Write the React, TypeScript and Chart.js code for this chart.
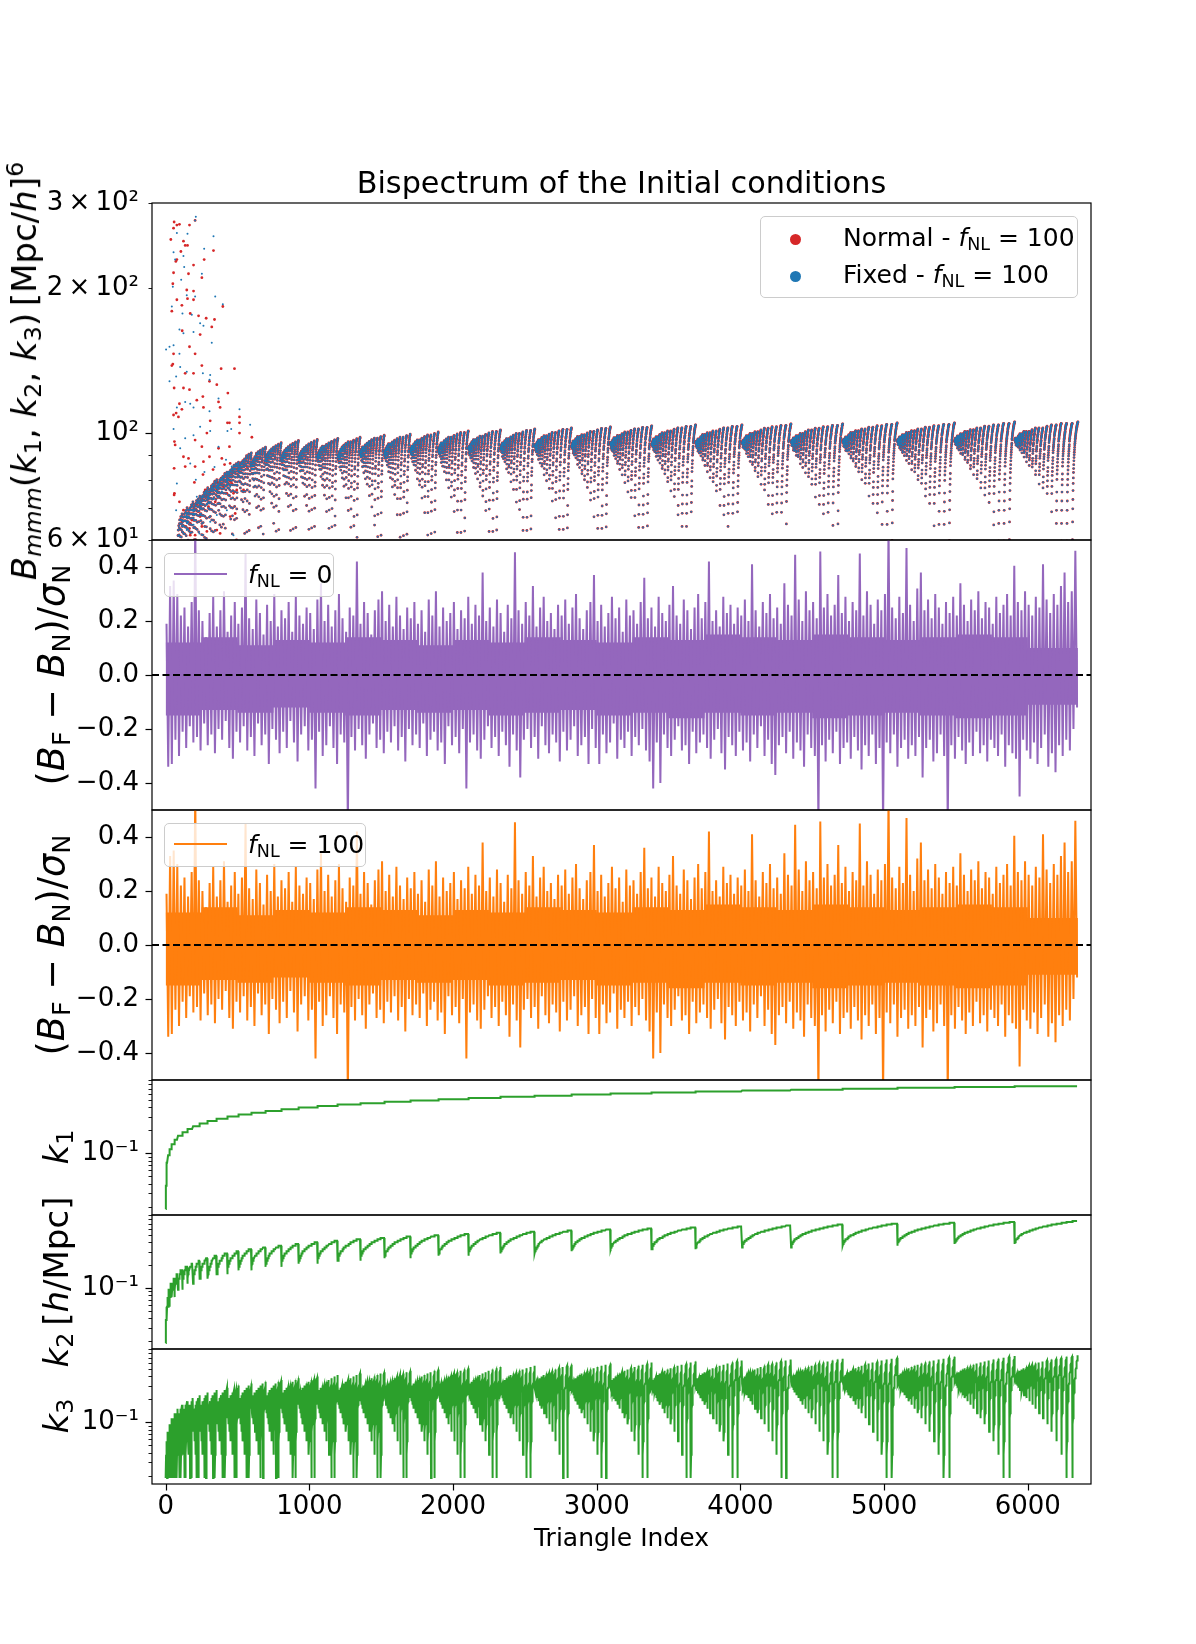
import { useEffect, useRef } from "react";
import { Chart, registerables } from "chart.js";

Chart.register(...registerables);

const FONT = "'DejaVu Sans', sans-serif";

// k bins in h/Mpc (k1 >= k2 >= k3 are all taken from this list)
const kBins = [
  0.0188, 0.0377, 0.0565, 0.0754, 0.0942, 0.1131, 0.1319, 0.1508, 0.1696, 0.1885,
  0.2073, 0.2262, 0.245, 0.2639, 0.2827, 0.3016, 0.3204, 0.3393, 0.3581, 0.377,
  0.3958, 0.4147, 0.4335, 0.4524, 0.4712, 0.4901, 0.5089, 0.5278, 0.5466, 0.5655,
  0.5843, 0.6032, 0.622, 0.6409, 0.6597, 0.6786, 0.6974, 0.7163, 0.7351, 0.754,
];

const xTicks = [0, 1000, 2000, 3000, 4000, 5000, 6000];

// top of the "fan" of every k1 block from block 9 on
const FIRST_FAN_BLOCK = 9;
const fanTopByBlock = [
  68, 70, 72, 74, 77, 80, 83, 87,
  91, 93.5, 95.5, 96.5, 97, 97.5, 98, 99, 99.5, 100.5, 101, 101.5,
  102, 102.5, 103, 103.5, 104, 104, 104.5, 104.5, 105, 105, 105.5, 105.5,
];

// column tops inside a block, for k2/k1 = 0.50, 0.55, ... 1.00
const columnRise = [0.915, 0.925, 0.935, 0.945, 0.955, 0.963, 0.971, 0.979, 0.986, 0.993, 1.0];

// level of the rows below the top, for k3/k2 = 0, 0.025, ... 1.00
const squeezeShape = [
  0.4, 0.5, 0.57, 0.62, 0.66, 0.69, 0.72, 0.745, 0.765, 0.785, 0.8,
  0.815, 0.83, 0.843, 0.855, 0.865, 0.875, 0.885, 0.895, 0.903, 0.91,
  0.918, 0.925, 0.931, 0.937, 0.943, 0.948, 0.953, 0.958, 0.963, 0.967,
  0.971, 0.975, 0.979, 0.983, 0.987, 0.99, 0.993, 0.995, 0.998, 1.0,
];

// scattered large-scale triangles, [triangle index, B]
const normalLowK: [number, number][] = [
  [59, 274], [55, 266], [36, 252], [78, 270], [96, 271], [166, 270], [205, 276], [124, 250], [136, 245], [152, 245],
  [106, 238], [71, 227], [78, 229], [268, 229], [333, 239], [194, 223], [159, 214], [252, 210], [55, 215], [50, 204],
  [147, 198], [194, 197], [152, 190], [194, 189], [398, 183], [78, 189], [113, 184], [43, 179], [171, 177], [229, 175],
  [282, 173], [340, 172], [321, 166], [115, 163], [166, 151], [240, 160], [205, 146], [55, 146], [43, 138], [50, 139],
  [136, 133], [194, 133], [252, 138], [386, 136], [479, 136], [59, 124], [124, 124], [166, 123], [217, 117], [259, 119],
  [305, 128], [356, 126], [433, 121], [368, 116], [379, 113], [96, 115], [113, 112], [73, 110], [55, 109], [89, 108],
  [263, 113], [310, 106], [430, 105], [444, 105], [61, 96], [66, 94.5], [205, 96.7], [252, 93.7], [287, 100], [368, 93],
  [444, 93.7], [124, 89.3], [159, 88.6], [59, 84.5], [59, 74.4], [136, 85.2], [205, 85.2], [263, 87.2], [305, 89.3], [391, 88.6],
  [449, 86.5], [61, 75], [96, 72], [124, 69.2], [113, 65.5], [171, 65], [194, 66], [229, 68.7], [240, 72], [275, 76.2],
  [333, 77.4], [379, 78.6], [449, 79.3], [472, 75], [171, 61.4], [205, 61.4], [252, 64], [287, 62.5], [356, 62.9], [379, 61.9],
  [449, 67.1], [484, 68.1], [182, 66], [217, 69], [263, 72.6], [310, 75], [356, 76.2], [402, 77.4], [460, 78.6], [166, 63.4],
  [240, 67.1], [298, 70.4], [345, 72], [426, 75], [495, 76.2], [140, 64], [185, 68], [215, 71], [250, 73], [280, 74],
  [320, 76], [360, 79], [400, 80], [430, 82], [470, 83], [500, 84], [200, 79], [260, 82], [330, 84], [410, 86],
  [514, 108], [514, 105], [514, 100], [600, 98], [565, 85.2], [542, 76.2],
];

const fixedLowK: [number, number][] = [
  [210, 281], [205, 276], [78, 260], [152, 259], [333, 256], [268, 241], [55, 237], [124, 233], [66, 229], [129, 221],
  [108, 208], [50, 201], [252, 214], [147, 193], [205, 192], [345, 192], [398, 185], [43, 183], [117, 177], [182, 176],
  [240, 169], [263, 167], [96, 164], [124, 161], [194, 162], [321, 154], [3, 149], [27, 151], [55, 152], [96, 146],
  [101, 137], [73, 131], [27, 128], [147, 134], [259, 133], [310, 132], [305, 129], [171, 115], [136, 116], [194, 113],
  [78, 113], [305, 111], [368, 118], [430, 101], [456, 102], [55, 102], [136, 97.5], [194, 99], [240, 103], [310, 101],
  [368, 93.7], [101, 93], [171, 86.5], [78, 78.6], [73, 69.2], [113, 66], [147, 67.6], [182, 70.4], [217, 73.8], [275, 75],
  [333, 76.2], [379, 79.9], [414, 77.4], [460, 85.2], [484, 81.2], [147, 62.9], [235, 61.9], [310, 65.5], [356, 67.6], [426, 69.2],
  [472, 61.4], [194, 64.5], [240, 67.6], [287, 71], [333, 73], [391, 75.6], [449, 77.4], [495, 78], [150, 65], [190, 69],
  [225, 72], [255, 74], [290, 75], [325, 77], [365, 78], [405, 81], [440, 83], [480, 84], [210, 80], [270, 83],
  [340, 85], [420, 88], [500, 86], [514, 112], [588, 104],
];

// (B_F - B_N)/sigma_N : upper and lower peaks per bin of 25 triangles
// (the fNL = 0 and fNL = 100 panels look the same in the figure)
const RESIDUAL_BIN = 25;
const residualUp = [
  0.19, 0.33, 0.35, 0.3, 0.22, 0.25, 0.18, 0.27, 0.56, 0.24,
  0.2, 0.14, 0.23, 0.29, 0.18, 0.24, 0.31, 0.16, 0.22, 0.27,
  0.19, 0.25, 0.45, 0.21, 0.17, 0.28, 0.23, 0.15, 0.26, 0.2,
  0.3, 0.18, 0.24, 0.21, 0.27, 0.16, 0.29, 0.22, 0.19, 0.25,
  0.23, 0.17, 0.28, 0.34, 0.2, 0.26, 0.18, 0.24, 0.3, 0.21,
  0.16, 0.25, 0.22, 0.42, 0.19, 0.27, 0.23, 0.15, 0.24, 0.28,
  0.31, 0.2, 0.26, 0.18, 0.29, 0.22, 0.17, 0.25, 0.21, 0.27,
  0.19, 0.24, 0.16, 0.28, 0.22, 0.31, 0.18, 0.25, 0.2, 0.23,
  0.27, 0.17, 0.24, 0.21, 0.29, 0.19, 0.26, 0.22, 0.38, 0.2,
  0.25, 0.18, 0.28, 0.23, 0.16, 0.26, 0.21, 0.455, 0.24, 0.19,
  0.27, 0.22, 0.33, 0.18, 0.25, 0.29, 0.2, 0.23, 0.17, 0.26,
  0.22, 0.28, 0.19, 0.25, 0.3, 0.21, 0.17, 0.24, 0.27, 0.37,
  0.2, 0.26, 0.18, 0.23, 0.29, 0.21, 0.25, 0.16, 0.28, 0.22,
  0.24, 0.19, 0.27, 0.36, 0.21, 0.25, 0.18, 0.29, 0.23, 0.2,
  0.26, 0.33, 0.22, 0.19, 0.28, 0.24, 0.17, 0.25, 0.3, 0.21,
  0.27, 0.42, 0.2, 0.24, 0.18, 0.29, 0.23, 0.26, 0.19, 0.25,
  0.22, 0.28, 0.2, 0.41, 0.24, 0.18, 0.27, 0.23, 0.3, 0.21,
  0.25, 0.19, 0.34, 0.26, 0.22, 0.445, 0.28, 0.2, 0.31, 0.24,
  0.27, 0.21, 0.457, 0.25, 0.3, 0.22, 0.26, 0.37, 0.23, 0.29,
  0.2, 0.27, 0.24, 0.45, 0.22, 0.31, 0.26, 0.19, 0.28, 0.24,
  0.3, 0.55, 0.25, 0.21, 0.29, 0.23, 0.47, 0.26, 0.2, 0.32,
  0.38, 0.24, 0.28, 0.21, 0.3, 0.25, 0.19, 0.27, 0.23, 0.29,
  0.22, 0.34, 0.26, 0.2, 0.28, 0.24, 0.31, 0.21, 0.27, 0.25,
  0.19, 0.29, 0.23, 0.26, 0.3, 0.22, 0.405, 0.27, 0.24, 0.31,
  0.26, 0.22, 0.29, 0.25, 0.41, 0.28, 0.23, 0.3, 0.26, 0.33,
  0.38, 0.27, 0.31, 0.46,
];
const residualDown = [
  -0.34, -0.33, -0.24, -0.3, -0.21, -0.27, -0.19, -0.25, -0.23, -0.28,
  -0.18, -0.26, -0.22, -0.29, -0.2, -0.24, -0.17, -0.27, -0.31, -0.21,
  -0.25, -0.19, -0.28, -0.23, -0.3, -0.18, -0.26, -0.22, -0.33, -0.2,
  -0.24, -0.29, -0.21, -0.27, -0.17, -0.25, -0.32, -0.22, -0.19, -0.28,
  -0.24, -0.42, -0.21, -0.3, -0.26, -0.19, -0.27, -0.33, -0.22, -0.25,
  -0.56, -0.23, -0.28, -0.2, -0.26, -0.31, -0.22, -0.18, -0.27, -0.24,
  -0.29, -0.21, -0.25, -0.19, -0.28, -0.23, -0.32, -0.2, -0.26, -0.22,
  -0.27, -0.18, -0.3, -0.24, -0.21, -0.28, -0.25, -0.33, -0.19, -0.26,
  -0.23, -0.29, -0.2, -0.42, -0.25, -0.22, -0.28, -0.31, -0.24, -0.19,
  -0.27, -0.23, -0.3, -0.21, -0.26, -0.34, -0.22, -0.28, -0.38, -0.24,
  -0.2, -0.27, -0.23, -0.31, -0.19, -0.26, -0.29, -0.22, -0.25, -0.32,
  -0.21, -0.28, -0.24, -0.19, -0.3, -0.26, -0.23, -0.33, -0.2, -0.27,
  -0.33, -0.22, -0.29, -0.25, -0.18, -0.31, -0.24, -0.27, -0.21, -0.3,
  -0.23, -0.26, -0.2, -0.28, -0.32, -0.42, -0.25, -0.4, -0.22, -0.27,
  -0.3, -0.24, -0.19, -0.28, -0.26, -0.33, -0.21, -0.29, -0.25, -0.22,
  -0.27, -0.31, -0.24, -0.2, -0.29, -0.35, -0.23, -0.26, -0.3, -0.21,
  -0.28, -0.25, -0.32, -0.22, -0.27, -0.19, -0.3, -0.24, -0.33, -0.37,
  -0.26, -0.23, -0.29, -0.21, -0.31, -0.25, -0.28, -0.34, -0.22, -0.27,
  -0.3, -0.56, -0.26, -0.32, -0.24, -0.29, -0.21, -0.33, -0.27, -0.25,
  -0.31, -0.23, -0.28, -0.35, -0.26, -0.3, -0.22, -0.33, -0.27, -0.56,
  -0.25, -0.29, -0.22, -0.34, -0.27, -0.24, -0.31, -0.26, -0.3, -0.23,
  -0.38, -0.27, -0.24, -0.32, -0.29, -0.22, -0.3, -0.56, -0.26, -0.31,
  -0.23, -0.28, -0.33, -0.25, -0.3, -0.21, -0.29, -0.26, -0.32, -0.24,
  -0.27, -0.3, -0.22, -0.34, -0.26, -0.29, -0.31, -0.45, -0.24, -0.28,
  -0.31, -0.25, -0.33, -0.27, -0.22, -0.34, -0.29, -0.36, -0.26, -0.3,
  -0.24, -0.28, -0.2, -0.12,
];
// solid core of the residual band, per 250 triangles
const RESIDUAL_CORE_BIN = 250;
const residualCoreUp = [
  0.13, 0.12, 0.14, 0.11, 0.13, 0.12, 0.14, 0.13, 0.11, 0.13, 0.12, 0.14, 0.13,
  0.12, 0.14, 0.13, 0.15, 0.14, 0.13, 0.15, 0.14, 0.13, 0.14, 0.15, 0.14, 0.1,
];
const residualCoreDown = [
  -0.14, -0.15, -0.13, -0.14, -0.12, -0.14, -0.15, -0.13, -0.14, -0.13, -0.15, -0.14, -0.13,
  -0.15, -0.14, -0.16, -0.14, -0.15, -0.14, -0.16, -0.15, -0.14, -0.15, -0.16, -0.15, -0.11,
];
const LAST_TRIANGLE = 6349;

// ---- tables built from the lists above ----
const triangles: { n1: number; n2: number; n3: number }[] = [];
for (let n1 = 1; n1 <= kBins.length; n1++) {
  for (let n2 = Math.ceil(n1 / 2); n2 <= n1; n2++) {
    for (let n3 = Math.max(1, n1 - n2); n3 <= n2; n3++) triangles.push({ n1, n2, n3 });
  }
}

const fanPoints = triangles.flatMap((t, n) => {
  if (t.n1 < FIRST_FAN_BLOCK) return [];
  const top = fanTopByBlock[t.n1 - FIRST_FAN_BLOCK];
  const rise = columnRise[Math.round((t.n2 / t.n1 - 0.5) / 0.05)];
  const shape = squeezeShape[Math.round(t.n3 / t.n2 / 0.025)];
  return [{ x: n, y: top * rise * shape }];
});
const normalPoints = [...normalLowK.map(([x, y]) => ({ x, y })), ...fanPoints];
const fixedPoints = [...fixedLowK.map(([x, y]) => ({ x, y })), ...fanPoints];

const residualLine = residualUp.flatMap((up, b) => [
  { x: b * RESIDUAL_BIN + 6, y: up },
  { x: b * RESIDUAL_BIN + 18, y: residualDown[b] },
]);
const coreEdge = (vals: number[]) => [
  ...vals.map((y, s) => ({ x: s * RESIDUAL_CORE_BIN, y })),
  { x: LAST_TRIANGLE, y: vals[vals.length - 1] },
];

const k1Line = triangles.map((t, n) => ({ x: n, y: kBins[t.n1 - 1] }));
const k2Line = triangles.map((t, n) => ({ x: n, y: kBins[t.n2 - 1] }));
const k3Line = triangles.map((t, n) => ({ x: n, y: kBins[t.n3 - 1] }));

// ---- layout ----
const CANVAS_W = 1110;
const PLOT_LEFT = 152;
const PLOT_RIGHT = 1091;
const X_MIN = -95;
const X_MAX = 6440;
const PAD = 18;
const X_AXIS_H = 40;
const TICK_FONT = { family: FONT, size: 26 };

const zeroLine = [
  { x: X_MIN, y: 0 },
  { x: X_MAX, y: 0 },
];
const kMinor = [0.02, 0.03, 0.04, 0.05, 0.06, 0.07, 0.08, 0.09, 0.2, 0.3, 0.4, 0.5, 0.6, 0.7, 0.8, 0.9];
const residualTicks = [-0.4, -0.2, 0, 0.2, 0.4];
const bLabels: Record<number, string> = {
  60: "6\u2009×\u200910¹",
  100: "10²",
  200: "2\u2009×\u200910²",
  300: "3\u2009×\u200910²",
};

const residualY = {
  type: "linear",
  min: -0.5,
  max: 0.5,
  afterBuildTicks: (s: any) => {
    s.ticks = residualTicks.map((value) => ({ value }));
  },
  ticks: {
    callback: (v: number) => (v < 0 ? "\u2212" : "") + Math.abs(v).toFixed(1),
  },
};
const kY = {
  type: "logarithmic",
  min: 0.01567,
  max: 0.9068,
  afterBuildTicks: (s: any) => {
    s.ticks = [{ value: 0.1 }];
  },
  ticks: { callback: () => "10\u207B\u00B9" },
};

const lineSet = (data: any[], color: string, extra: any = {}) => ({
  data,
  borderColor: color,
  borderWidth: 2,
  pointRadius: 0,
  tension: 0,
  ...extra,
});

const residualSets = (color: string) => [
  lineSet(coreEdge(residualCoreUp), color, {
    borderWidth: 0,
    stepped: "after",
    fill: "+1",
    backgroundColor: color,
    order: 3,
  }),
  lineSet(coreEdge(residualCoreDown), color, { borderWidth: 0, stepped: "after", fill: false, order: 3 }),
  lineSet(residualLine, color, { order: 2 }),
  lineSet(zeroLine, "#000", { borderDash: [7, 3.5], order: 1 }),
];

const panels: any[] = [
  {
    top: 203,
    h: 337,
    type: "scatter",
    datasets: [
      { data: fixedPoints, backgroundColor: "#1f77b4", pointRadius: 1.0, pointBorderWidth: 0, order: 1 },
      { data: normalPoints, backgroundColor: "#d62728", pointRadius: 1.4, pointBorderWidth: 0, order: 2 },
    ],
    y: {
      type: "logarithmic",
      min: 60,
      max: 300,
      afterBuildTicks: (s: any) => {
        s.ticks = [60, 100, 200, 300].map((value) => ({ value }));
      },
      ticks: { callback: (v: number) => bLabels[Math.round(v)] ?? "" },
    },
    major: [100],
    minor: [60, 70, 80, 90, 200, 300],
  },
  { top: 540, h: 270, type: "line", datasets: residualSets("#9467bd"), y: residualY, major: residualTicks, minor: [] },
  { top: 810, h: 270, type: "line", datasets: residualSets("#ff7f0e"), y: residualY, major: residualTicks, minor: [] },
  { top: 1080, h: 135, type: "line", datasets: [lineSet(k1Line, "#2ca02c")], y: kY, major: [0.1], minor: kMinor },
  { top: 1215, h: 134, type: "line", datasets: [lineSet(k2Line, "#2ca02c")], y: kY, major: [0.1], minor: kMinor },
  {
    top: 1349,
    h: 135,
    type: "line",
    datasets: [lineSet(k3Line, "#2ca02c")],
    y: kY,
    major: [0.1],
    minor: kMinor,
    showX: true,
  },
];

const canvasHeight = (p: any) => PAD + p.h + (p.showX ? X_AXIS_H : PAD);

function framePlugin(p: any) {
  return {
    id: "axisFrame",
    afterDraw(chart: any) {
      const { ctx, chartArea: a } = chart;
      const ys = chart.scales.y;
      const xs = chart.scales.x;
      ctx.save();
      ctx.strokeStyle = "#000";
      const yTick = (v: number, len: number, w: number) => {
        const py = Math.round(ys.getPixelForValue(v)) + 0.5;
        ctx.lineWidth = w;
        ctx.beginPath();
        ctx.moveTo(a.left - len, py);
        ctx.lineTo(a.left, py);
        ctx.stroke();
      };
      p.major.forEach((v: number) => yTick(v, 6.5, 1.2));
      p.minor.forEach((v: number) => yTick(v, 3.5, 0.9));
      if (p.showX) {
        ctx.lineWidth = 1.2;
        xTicks.forEach((v) => {
          const px = Math.round(xs.getPixelForValue(v)) + 0.5;
          ctx.beginPath();
          ctx.moveTo(px, a.bottom);
          ctx.lineTo(px, a.bottom + 6.5);
          ctx.stroke();
        });
      }
      ctx.lineWidth = 1.2;
      ctx.strokeRect(a.left, a.top, a.right - a.left, a.bottom - a.top);
      ctx.restore();
    },
  };
}

function buildConfig(p: any): any {
  return {
    type: p.type,
    data: { datasets: p.datasets },
    plugins: [framePlugin(p)],
    options: {
      responsive: false,
      maintainAspectRatio: false,
      animation: false,
      events: [],
      layout: {
        padding: { left: 0, right: CANVAS_W - PLOT_RIGHT, top: PAD, bottom: p.showX ? 0 : PAD },
      },
      plugins: { legend: { display: false }, tooltip: { enabled: false } },
      scales: {
        x: {
          type: "linear",
          min: X_MIN,
          max: X_MAX,
          display: !!p.showX,
          grid: { display: false, drawTicks: false },
          border: { display: false },
          afterBuildTicks: (s: any) => {
            s.ticks = xTicks.map((value) => ({ value }));
          },
          afterFit: (s: any) => {
            s.height = p.showX ? X_AXIS_H : 0;
            s.paddingLeft = 0;
            s.paddingRight = 0;
          },
          ticks: {
            font: TICK_FONT,
            color: "#000",
            padding: 8,
            maxRotation: 0,
            minRotation: 0,
            autoSkip: false,
            callback: (v: number) => String(v),
          },
        },
        y: {
          ...p.y,
          position: "left",
          grid: { display: false, drawTicks: false },
          border: { display: false },
          afterFit: (s: any) => {
            s.width = PLOT_LEFT;
            s.paddingTop = 0;
            s.paddingBottom = 0;
          },
          ticks: { ...p.y.ticks, font: TICK_FONT, color: "#000", padding: 13, autoSkip: false },
        },
      },
    },
  };
}

const it = { fontStyle: "italic" } as const;
const sub = { fontSize: "0.7em", position: "relative", top: "0.23em" } as const;
const sup = { fontSize: "0.7em", position: "relative", top: "-0.55em" } as const;
const THIN = "\u2009";

const Fnl = () => (
  <>
    <span style={it}>f</span>
    <span style={sub}>NL</span>
  </>
);

function YLabel({ cx, cy, size = 34, children }: { cx: number; cy: number; size?: number; children: any }) {
  return (
    <div
      style={{
        position: "absolute",
        left: cx,
        top: cy,
        transform: "translate(-50%, -50%) rotate(-90deg)",
        whiteSpace: "nowrap",
        fontSize: size,
        lineHeight: `${size}px`,
      }}
    >
      {children}
    </div>
  );
}

const ResidualLabel = () => (
  <>
    (<span style={it}>B</span>
    <span style={sub}>F</span> − <span style={it}>B</span>
    <span style={sub}>N</span>)/<span style={it}>σ</span>
    <span style={sub}>N</span>
  </>
);

function LineLegend({ top, width, color, label }: { top: number; width: number; color: string; label: string }) {
  return (
    <div
      style={{
        position: "absolute",
        left: 164,
        top,
        width,
        height: 44,
        boxSizing: "border-box",
        border: "1px solid #cccccc",
        borderRadius: 5,
        background: "rgba(255,255,255,0.8)",
      }}
    >
      <div style={{ position: "absolute", left: 9, top: 19, width: 53, height: 2, background: color }} />
      <div style={{ position: "absolute", left: 83, top: 8, fontSize: 25, lineHeight: "25px", whiteSpace: "nowrap" }}>
        <Fnl /> = {label}
      </div>
    </div>
  );
}

export default function App() {
  const canvasRefs = useRef<(HTMLCanvasElement | null)[]>([]);

  useEffect(() => {
    const charts = panels.map((p, i) => new Chart(canvasRefs.current[i] as HTMLCanvasElement, buildConfig(p)));
    return () => charts.forEach((c) => c.destroy());
  }, []);

  return (
    <div
      style={{
        position: "absolute",
        left: 0,
        top: 0,
        width: 1196,
        height: 1644,
        background: "#fff",
        fontFamily: FONT,
        color: "#000",
        overflow: "hidden",
      }}
    >
      {panels.map((p, i) => (
        <canvas
          key={i}
          ref={(el) => {
            canvasRefs.current[i] = el;
          }}
          width={CANVAS_W}
          height={canvasHeight(p)}
          style={{ position: "absolute", left: 0, top: p.top - PAD, width: CANVAS_W, height: canvasHeight(p) }}
        />
      ))}

      <div
        style={{
          position: "absolute",
          left: 0,
          width: PLOT_LEFT + PLOT_RIGHT,
          top: 168,
          textAlign: "center",
          fontSize: 30.3,
          lineHeight: "30.3px",
          whiteSpace: "nowrap",
        }}
      >
        Bispectrum of the Initial conditions
      </div>

      <div
        style={{
          position: "absolute",
          left: 0,
          width: PLOT_LEFT + PLOT_RIGHT,
          top: 1525,
          textAlign: "center",
          fontSize: 25,
          lineHeight: "25px",
          whiteSpace: "nowrap",
        }}
      >
        Triangle Index
      </div>

      <YLabel cx={26} cy={371}>
        <span style={it}>B</span>
        <span style={{ ...sub, ...it }}>mmm</span>(<span style={it}>k</span>
        <span style={sub}>1</span>, <span style={it}>k</span>
        <span style={sub}>2</span>, <span style={it}>k</span>
        <span style={sub}>3</span>){THIN}[Mpc/<span style={it}>h</span>]<span style={sup}>6</span>
      </YLabel>
      <YLabel cx={54} cy={675} size={36.5}>
        <ResidualLabel />
      </YLabel>
      <YLabel cx={54} cy={945} size={36.5}>
        <ResidualLabel />
      </YLabel>
      <YLabel cx={58} cy={1147}>
        <span style={it}>k</span>
        <span style={sub}>1</span>
      </YLabel>
      <YLabel cx={58} cy={1282}>
        <span style={it}>k</span>
        <span style={sub}>2</span>
        {THIN}[<span style={it}>h</span>/Mpc]
      </YLabel>
      <YLabel cx={58} cy={1416}>
        <span style={it}>k</span>
        <span style={sub}>3</span>
      </YLabel>

      <div
        style={{
          position: "absolute",
          left: 760,
          top: 216,
          width: 318,
          height: 82,
          boxSizing: "border-box",
          border: "1px solid #cccccc",
          borderRadius: 5,
          background: "rgba(255,255,255,0.8)",
        }}
      >
        <div style={{ position: "absolute", left: 29, top: 17, width: 11, height: 11, borderRadius: "50%", background: "#d62728" }} />
        <div style={{ position: "absolute", left: 29, top: 54, width: 11, height: 11, borderRadius: "50%", background: "#1f77b4" }} />
        <div style={{ position: "absolute", left: 82, top: 8, fontSize: 25, lineHeight: "25px", whiteSpace: "nowrap" }}>
          Normal - <Fnl /> = 100
        </div>
        <div style={{ position: "absolute", left: 82, top: 45, fontSize: 25, lineHeight: "25px", whiteSpace: "nowrap" }}>
          Fixed - <Fnl /> = 100
        </div>
      </div>

      <LineLegend top={553} width={170} color="#9467bd" label="0" />
      <LineLegend top={823} width={202} color="#ff7f0e" label="100" />
    </div>
  );
}
